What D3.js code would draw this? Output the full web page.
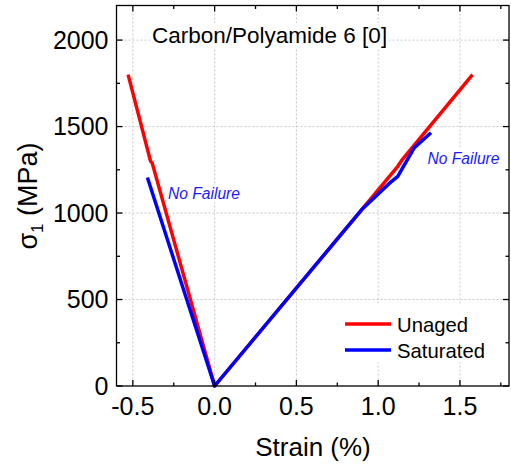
<!DOCTYPE html>
<html>
<head>
<meta charset="utf-8">
<script src="https://cdn.jsdelivr.net/npm/d3@7"></script>
<style>
  html, body { margin: 0; padding: 0; background: #fff; }
  svg { display: block; font-family: "Liberation Sans", Arial, sans-serif; }
</style>
</head>
<body>
<svg id="chart" width="511" height="465"></svg>
<script>
// Stress–strain curves, Carbon/Polyamide 6 [0]
const unagedStrain = [-0.529, -0.392, -0.382, 0, 1.12, 1.15, 1.577];
const unagedStress = [1800, 1300, 1290, 0, 1270, 1312, 1800];

const saturatedStrain = [-0.411, 0, 0.9, 1.07, 1.12, 1.22, 1.323];
const saturatedStress = [1206, 0, 1020, 1173, 1212, 1377, 1464];

const xTicks = [-0.5, 0.0, 0.5, 1.0, 1.5];
const xMinorTicks = [-0.5, -0.25, 0, 0.25, 0.5, 0.75, 1.0, 1.25, 1.5, 1.75];
const yTicks = [0, 500, 1000, 1500, 2000];
const yMinorTicks = [0, 250, 500, 750, 1000, 1250, 1500, 1750, 2000];

const seriesNames = ["Unaged", "Saturated"];
const seriesColors = ["#ff0000", "#0000ff"];

const svg = d3.select("#chart");
const m = { left: 116.5, right: 509, top: 5.5, bottom: 386 };

const x = d3.scaleLinear().domain([-0.6, 1.8]).range([m.left, m.right]);
const y = d3.scaleLinear().domain([0, 2200]).range([m.bottom, m.top]);

// grid
const grid = svg.append("g").attr("stroke", "#c8c8c8").attr("stroke-width", 1)
  .attr("stroke-dasharray", "2,2");
xTicks.forEach(t => grid.append("line")
  .attr("x1", x(t)).attr("x2", x(t)).attr("y1", m.top).attr("y2", m.bottom));
yTicks.filter(t => t > 0).forEach(t => grid.append("line")
  .attr("x1", m.left).attr("x2", m.right).attr("y1", y(t)).attr("y2", y(t)));

// lines
const line = d3.line().x(d => x(d[0])).y(d => y(d[1]));
const unaged = unagedStrain.map((s, i) => [s, unagedStress[i]]);
const saturated = saturatedStrain.map((s, i) => [s, saturatedStress[i]]);
[unaged, saturated].forEach((data, i) => {
  svg.append("path").datum(data)
    .attr("fill", "none").attr("stroke", seriesColors[i])
    .attr("stroke-width", 3.5).attr("stroke-linejoin", "round")
    .attr("d", line);
});

// annotations with white backing
function boxedText(tx, ty, text, opts) {
  const g = svg.append("g");
  const t = g.append("text").attr("x", tx).attr("y", ty).text(text)
    .attr("font-size", opts.size).attr("fill", opts.color)
    .attr("font-style", opts.italic ? "italic" : "normal");
  const b = t.node().getBBox();
  g.insert("rect", "text").attr("x", b.x - 2).attr("y", b.y)
    .attr("width", b.width + 4).attr("height", b.height).attr("fill", "#fff");
}
boxedText(152, 43, "Carbon/Polyamide 6 [0]", { size: 22.5, color: "#000" });
boxedText(168, 199, "No Failure", { size: 15.6, color: "#1a1aff", italic: true });
boxedText(427.5, 163.5, "No Failure", { size: 15.6, color: "#1a1aff", italic: true });

// legend
const lg = svg.append("g");
lg.append("rect").attr("x", 338).attr("y", 305).attr("width", 162).attr("height", 57).attr("fill", "#fff");
seriesNames.forEach((name, i) => {
  const ly = 324 + i * 26;
  lg.append("line").attr("x1", 345).attr("x2", 391).attr("y1", ly).attr("y2", ly)
    .attr("stroke", seriesColors[i]).attr("stroke-width", 3.5);
  lg.append("text").attr("x", 397).attr("y", ly + 7.5).attr("font-size", 20.3)
    .attr("fill", "#000").text(name);
});

// frame and ticks (inward on all sides)
svg.append("rect").attr("x", m.left).attr("y", m.top)
  .attr("width", m.right - m.left).attr("height", m.bottom - m.top)
  .attr("fill", "none").attr("stroke", "#000").attr("stroke-width", 1.3);

const ticksG = svg.append("g").attr("stroke", "#000").attr("stroke-width", 1.3);
xMinorTicks.forEach(t => {
  const len = xTicks.includes(t) ? 6 : 3.5;
  ticksG.append("line").attr("x1", x(t)).attr("x2", x(t)).attr("y1", m.bottom).attr("y2", m.bottom - len);
  ticksG.append("line").attr("x1", x(t)).attr("x2", x(t)).attr("y1", m.top).attr("y2", m.top + len);
});
yMinorTicks.forEach(t => {
  const len = yTicks.includes(t) ? 6 : 3.5;
  ticksG.append("line").attr("x1", m.left).attr("x2", m.left + len).attr("y1", y(t)).attr("y2", y(t));
  ticksG.append("line").attr("x1", m.right).attr("x2", m.right - len).attr("y1", y(t)).attr("y2", y(t));
});

// tick labels
xTicks.forEach(t => svg.append("text").attr("x", x(t)).attr("y", 415)
  .attr("text-anchor", "middle").attr("font-size", 25).attr("fill", "#000")
  .text(d3.format(".1f")(t).replace("−", "-")));
yTicks.forEach(t => svg.append("text").attr("x", 108.5).attr("y", y(t) + 8.5)
  .attr("text-anchor", "end").attr("font-size", 25).attr("fill", "#000").text(t));

// axis titles
svg.append("text").attr("x", 313).attr("y", 456).attr("text-anchor", "middle")
  .attr("font-size", 26).attr("fill", "#000").text("Strain (%)");
const yt = svg.append("text").attr("transform", "translate(37,196) rotate(-90)")
  .attr("text-anchor", "middle").attr("font-size", 27).attr("fill", "#000");
yt.append("tspan").text("σ");
yt.append("tspan").attr("font-size", 17).attr("dy", 6).text("1");
yt.append("tspan").attr("dy", -6).text(" (MPa)");
</script>
</body>
</html>
